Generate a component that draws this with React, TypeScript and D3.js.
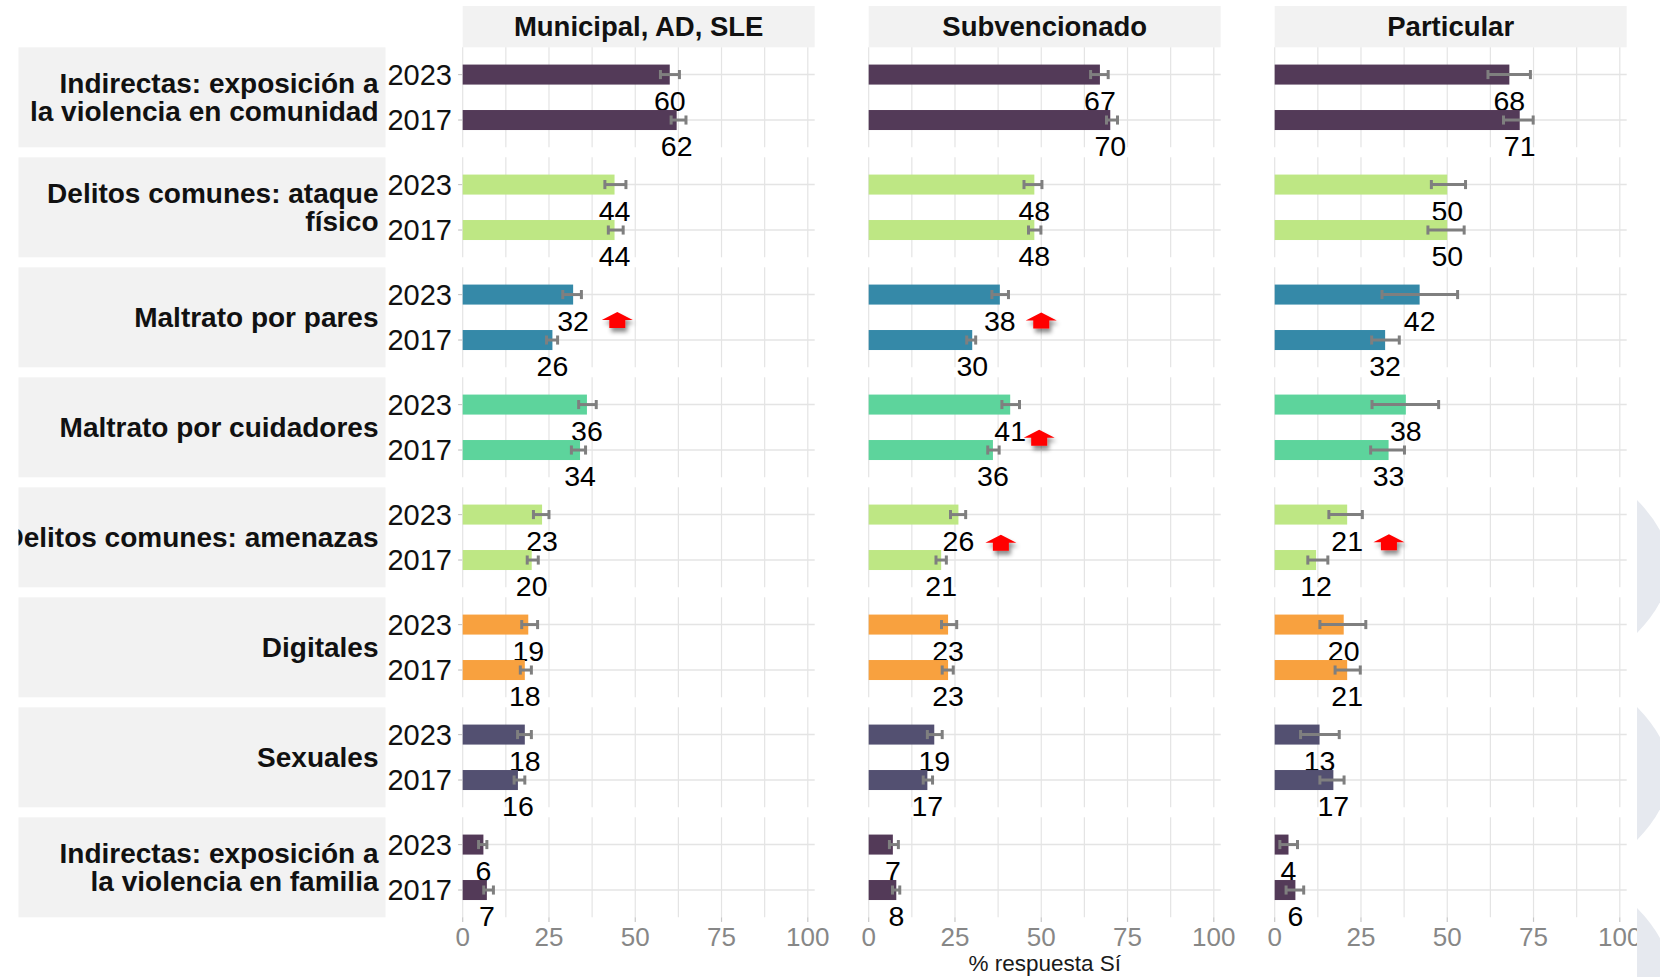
import React from "react";
import * as d3 from "d3";

// ---------- data ----------
const panels = ["Municipal, AD, SLE", "Subvencionado", "Particular"];
const categories = [
  "Indirectas: exposición a\nla violencia en comunidad",
  "Delitos comunes: ataque\nfísico",
  "Maltrato por pares",
  "Maltrato por cuidadores",
  "Delitos comunes: amenazas",
  "Digitales",
  "Sexuales",
  "Indirectas: exposición a\nla violencia en familia",
];
const years = ["2023", "2017"];
const categoryColors = ["#533A58", "#BEE784", "#3589A8", "#5DD49C", "#BEE784", "#F8A13F", "#535071", "#533A58"];
const xTicks = [0, 25, 50, 75, 100];
const xGrid = [0, 12.5, 25, 37.5, 50, 62.5, 75, 87.5, 100];

const municipal2023 = [60, 44, 32, 36, 23, 19, 18, 6];
const municipal2023Lo = [57.3, 41.2, 29.0, 33.6, 20.5, 17.1, 15.9, 4.6];
const municipal2023Hi = [62.8, 47.3, 34.4, 38.7, 25.0, 21.7, 19.9, 7.0];
const municipal2017 = [62, 44, 26, 34, 20, 18, 16, 7];
const municipal2017Lo = [60.4, 42.2, 24.3, 31.5, 18.7, 16.7, 14.9, 6.1];
const municipal2017Hi = [64.7, 46.5, 27.5, 35.6, 21.9, 19.9, 18.0, 8.9];

const subv2023 = [67, 48, 38, 41, 26, 23, 19, 7];
const subv2023Lo = [64.3, 45.0, 35.7, 38.6, 23.7, 21.1, 17.0, 6.0];
const subv2023Hi = [69.4, 50.2, 40.5, 43.7, 28.1, 25.5, 21.3, 8.6];
const subv2017 = [70, 48, 30, 36, 21, 23, 17, 8];
const subv2017Lo = [68.9, 46.3, 28.4, 34.5, 19.5, 21.3, 15.8, 6.9];
const subv2017Hi = [72.1, 49.9, 31.0, 37.8, 22.5, 24.5, 18.5, 9.0];

const part2023 = [68, 50, 42, 38, 21, 20, 13, 4];
const part2023Lo = [61.8, 45.4, 31.1, 28.2, 15.7, 13.1, 7.5, 1.5];
const part2023Hi = [74.1, 55.3, 53.0, 47.5, 25.4, 26.4, 18.7, 6.6];
const part2017 = [71, 50, 32, 33, 12, 21, 17, 6];
const part2017Lo = [66.3, 44.4, 28.1, 27.8, 9.6, 17.5, 13.1, 3.3];
const part2017Hi = [74.9, 54.9, 36.1, 37.6, 15.4, 24.8, 20.1, 8.4];

// significant-increase arrows
const arrowPanel = [0, 1, 1, 1, 2];
const arrowRow = [2, 2, 3, 4, 4];
const arrowX = [44.8, 50.0, 49.4, 38.3, 33.1];
const arrowPos = [0.56, 0.57, 0.73, 0.62, 0.61]; // 0 = 2023 line, 1 = 2017 line

const series = [
  { panel: 0, year: "2023", v: municipal2023, lo: municipal2023Lo, hi: municipal2023Hi },
  { panel: 0, year: "2017", v: municipal2017, lo: municipal2017Lo, hi: municipal2017Hi },
  { panel: 1, year: "2023", v: subv2023, lo: subv2023Lo, hi: subv2023Hi },
  { panel: 1, year: "2017", v: subv2017, lo: subv2017Lo, hi: subv2017Hi },
  { panel: 2, year: "2023", v: part2023, lo: part2023Lo, hi: part2023Hi },
  { panel: 2, year: "2017", v: part2017, lo: part2017Lo, hi: part2017Hi },
];

// ---------- layout ----------
const W = 1660;
const H = 977;
const panelLeft0 = 462.7;
const panelStep = 406;
const panelW = 352;
const rowTop0 = 47.3;
const stripTop = 6;
const labelBoxX0 = 18.5;
const labelBoxX1 = 385.5;
const FONT = "'Liberation Sans', Arial, Helvetica, sans-serif";
const gridColor = "#E4E4E4";

export default function App() {
  const x = d3.scaleLinear().domain([0, 102]).range([0, panelW]);
  const yRow = d3
    .scaleBand<string>()
    .domain(categories)
    .range([rowTop0, rowTop0 + 8 * 110 - 10])
    .paddingInner(10 / 110)
    .paddingOuter(0);
  const rowH = yRow.bandwidth();
  const yYear = d3.scalePoint<string>().domain(years).range([0, rowH]).padding(0.6);
  const barH = yYear.step() * 0.44;
  const capH = yYear.step() * 0.2;
  const panelX = (p: number) => panelLeft0 + p * panelStep;
  const bottom = (yRow(categories[categories.length - 1]) as number) + rowH;

  return (
    <svg
      width={W}
      height={H}
      style={{ position: "absolute", left: 0, top: 0, background: "#fff" }}
      fontFamily={FONT}
    >
      <defs>
        <filter id="arrowShadow" x="-60%" y="-60%" width="220%" height="240%">
          <feDropShadow dx="2" dy="4" stdDeviation="2.3" floodColor="#000" floodOpacity="0.45" />
        </filter>
        {categories.map((c, i) => (
          <clipPath id={`rowclip${i}`} key={c}>
            <rect x={labelBoxX0} y={yRow(c)} width={labelBoxX1 - labelBoxX0} height={rowH} />
          </clipPath>
        ))}
      </defs>
      <rect x={0} y={0} width={W} height={H} fill="#fff" />

      {/* strip headers */}
      {panels.map((p, pi) => (
        <g key={p}>
          <rect x={panelX(pi)} y={stripTop} width={panelW} height={rowTop0 - stripTop} fill="#F2F2F2" />
          <text
            x={panelX(pi) + panelW / 2}
            y={35.5}
            textAnchor="middle"
            fontWeight="bold"
            fontSize={27.5}
            fill="#111"
          >
            {p}
          </text>
        </g>
      ))}

      {/* row label strips */}
      {categories.map((c, i) => {
        const lines = c.split("\n");
        const top = yRow(c) as number;
        const cy = top + rowH / 2;
        const lh = 27.6;
        const cap = 19.5;
        return (
          <g key={c}>
            <rect x={labelBoxX0} y={top} width={labelBoxX1 - labelBoxX0} height={rowH} fill="#F2F2F2" />
            <g clipPath={`url(#rowclip${i})`}>
              <text
                x={378.5}
                y={cy + cap / 2 - ((lines.length - 1) / 2) * lh}
                textAnchor="end"
                fontWeight="bold"
                fontSize={28}
                fill="#111"
              >
                {lines.map((ln, li) => (
                  <tspan key={li} x={378.5} dy={li === 0 ? 0 : lh}>
                    {ln}
                  </tspan>
                ))}
              </text>
            </g>
            {years.map((yr) => (
              <g key={yr}>
                <line
                  x1={panelLeft0 - 4.6}
                  x2={panelLeft0}
                  y1={top + (yYear(yr) as number)}
                  y2={top + (yYear(yr) as number)}
                  stroke="#C8C8C8"
                  strokeWidth={1.2}
                />
                <text
                  x={452}
                  y={top + (yYear(yr) as number)}
                  dy="0.35em"
                  textAnchor="end"
                  fontSize={29}
                  fill="#111"
                >
                  {yr}
                </text>
              </g>
            ))}
          </g>
        );
      })}

      {/* panel grids */}
      {panels.map((p, pi) =>
        categories.map((c) => {
          const top = yRow(c) as number;
          const x0 = panelX(pi);
          return (
            <g key={p + c}>
              {xGrid.map((g) => (
                <line
                  key={g}
                  x1={x0 + x(g)}
                  x2={x0 + x(g)}
                  y1={top}
                  y2={top + rowH}
                  stroke={gridColor}
                  strokeWidth={1.2}
                />
              ))}
              {years.map((yr) => (
                <line
                  key={yr}
                  x1={x0}
                  x2={x0 + panelW}
                  y1={top + (yYear(yr) as number)}
                  y2={top + (yYear(yr) as number)}
                  stroke={gridColor}
                  strokeWidth={1.6}
                />
              ))}
            </g>
          );
        })
      )}

      {/* bars, error bars, labels */}
      {series.map((s) =>
        categories.map((c, i) => {
          const x0 = panelX(s.panel);
          const cy = (yRow(c) as number) + (yYear(s.year) as number);
          const xl = x0 + x(s.lo[i]);
          const xh = x0 + x(s.hi[i]);
          return (
            <g key={s.panel + s.year + c}>
              <rect x={x0} y={cy - barH / 2} width={x(s.v[i])} height={barH} fill={categoryColors[i]} />
              <g stroke="#7F7F7F" strokeWidth={3}>
                <line x1={xl} x2={xh} y1={cy} y2={cy} />
                <line x1={xl} x2={xl} y1={cy - capH / 2} y2={cy + capH / 2} />
                <line x1={xh} x2={xh} y1={cy - capH / 2} y2={cy + capH / 2} />
              </g>
              <text x={x0 + x(s.v[i])} y={cy + 36} textAnchor="middle" fontSize={28.5} fill="#000">
                {s.v[i]}
              </text>
            </g>
          );
        })
      )}

      {/* arrows */}
      {arrowX.map((ax, k) => {
        const c = categories[arrowRow[k]];
        const top = yRow(c) as number;
        const y23 = top + (yYear("2023") as number);
        const y17 = top + (yYear("2017") as number);
        const cy = y23 + (y17 - y23) * arrowPos[k];
        const cx = panelX(arrowPanel[k]) + x(ax);
        const d = `M${cx},${cy - 8} L${cx + 15.5},${cy} L${cx + 8},${cy} L${cx + 8},${cy + 8} L${cx - 8},${cy + 8} L${cx - 8},${cy} L${cx - 15.5},${cy} Z`;
        return <path key={k} d={d} fill="#FF0000" filter="url(#arrowShadow)" />;
      })}

      {/* x axes */}
      {panels.map((p, pi) => (
        <g key={"ax" + p}>
          {xTicks.map((t) => (
            <g key={t}>
              <line
                x1={panelX(pi) + x(t)}
                x2={panelX(pi) + x(t)}
                y1={bottom}
                y2={bottom + 4.6}
                stroke="#C8C8C8"
                strokeWidth={1.2}
              />
              <text x={panelX(pi) + x(t)} y={946} textAnchor="middle" fontSize={26} fill="#878787">
                {t}
              </text>
            </g>
          ))}
        </g>
      ))}
      <text x={panelLeft0 + panelStep + panelW / 2} y={971} textAnchor="middle" fontSize={22.5} fill="#1A1A1A">
        % respuesta Sí
      </text>

      {/* decorative background shapes at right edge */}
      <g fill="#E6E9EF">
        <path d="M1637,500 Q1702,566 1637,633 Z" />
        <path d="M1637,707 Q1702,773 1637,840 Z" />
        <path d="M1637,908 Q1702,974 1637,1041 Z" />
      </g>
    </svg>
  );
}
